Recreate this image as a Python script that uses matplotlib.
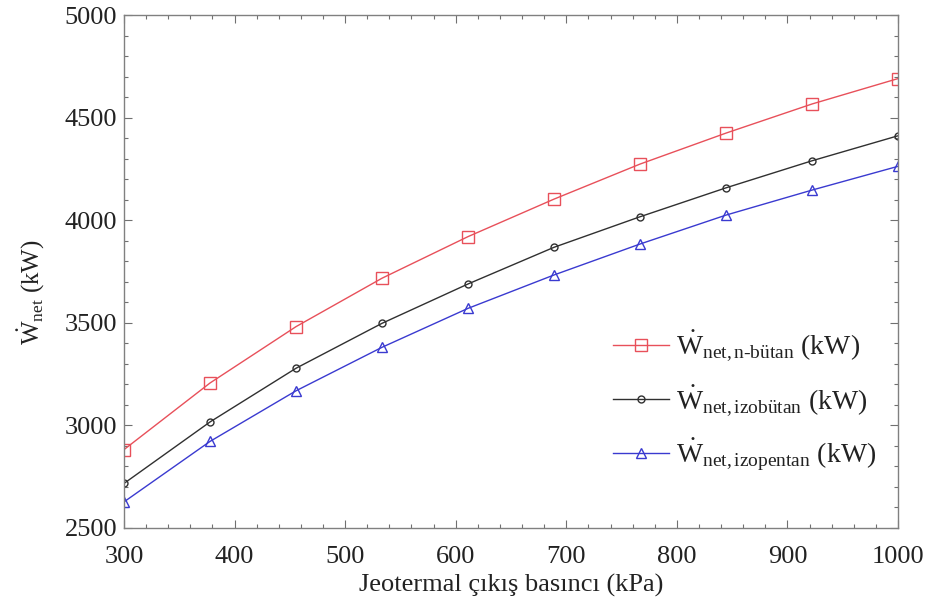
import matplotlib
matplotlib.use("Agg")
import matplotlib.pyplot as plt
from matplotlib.ticker import MultipleLocator

plt.rcParams['font.family'] = ['Liberation Serif', 'DejaVu Serif']
plt.rcParams['mathtext.fontset'] = 'custom'
plt.rcParams['mathtext.rm'] = 'Liberation Serif'
plt.rcParams['mathtext.it'] = 'Liberation Serif:italic'
plt.rcParams['mathtext.bf'] = 'Liberation Serif:bold'

pressure = [300, 377.8, 455.6, 533.3, 611.1, 688.9, 766.7, 844.4, 922.2, 1000]
w_nbutan = [2880, 3205, 3480, 3716, 3919, 4102, 4273, 4424, 4566, 4690]
w_izobutan = [2715, 3015, 3277, 3496, 3688, 3867, 4016, 4157, 4289, 4411]
w_izopentan = [2625, 2920, 3167, 3379, 3569, 3732, 3883, 4024, 4146, 4262]

labels = [r'$\dot{\mathrm{W}}_{\mathrm{net,n\text{-}bütan}}$ (kW)',
          r'$\dot{\mathrm{W}}_{\mathrm{net,izobütan}}$ (kW)',
          r'$\dot{\mathrm{W}}_{\mathrm{net,izopentan}}$ (kW)']

fig = plt.figure(figsize=(9.28, 6.06), dpi=100)
ax = fig.add_axes([0.1336, 0.1295, 0.8341, 0.8457])

ax.plot(pressure, w_nbutan, color='#e8505a', lw=1.0, marker='s', ms=8,
        mfc='none', mec='#e8505a', mew=1.0, label=labels[0])
ax.plot(pressure, w_izobutan, color='#303030', lw=1.0, marker='o', ms=5,
        mfc='none', mec='#303030', mew=1.0, label=labels[1])
ax.plot(pressure, w_izopentan, color='#3a3ad0', lw=1.0, marker='^', ms=7,
        mfc='none', mec='#3a3ad0', mew=1.0, label=labels[2])

ax.set_xlim(300, 1000)
ax.set_ylim(2500, 5000)
ax.xaxis.set_major_locator(MultipleLocator(100))
ax.xaxis.set_minor_locator(MultipleLocator(20))
ax.yaxis.set_major_locator(MultipleLocator(500))
ax.yaxis.set_minor_locator(MultipleLocator(100))
ax.tick_params(which='both', direction='in', top=True, right=True, colors='#707070',
               labelcolor='#222222', labelsize=19)
ax.tick_params(which='major', length=6, width=0.8)
ax.tick_params(which='minor', length=3, width=0.8)
ax.tick_params(axis='x', which='both', pad=13)
ax.tick_params(axis='y', which='both', pad=5)
for s in ax.spines.values():
    s.set_color('#808080')
    s.set_linewidth(1.0)

ax.set_xlabel('Jeotermal çıkış basıncı (kPa)', fontsize=19, color='#222222')
ax.xaxis.set_label_coords(0.5, -0.09)
ax.set_ylabel(r'$\dot{\mathrm{W}}_{\mathrm{net}}$ (kW)', fontsize=18, color='#222222')
ax.yaxis.set_label_coords(-0.10, 0.46)

leg = ax.legend(loc='center left', bbox_to_anchor=(0.6, 0.247), frameon=False,
                fontsize=20, handlelength=2.0, handletextpad=0.25, labelspacing=0.7)
for t in leg.get_texts():
    t.set_color('#222222')

fig.savefig('out.png', dpi=100)
